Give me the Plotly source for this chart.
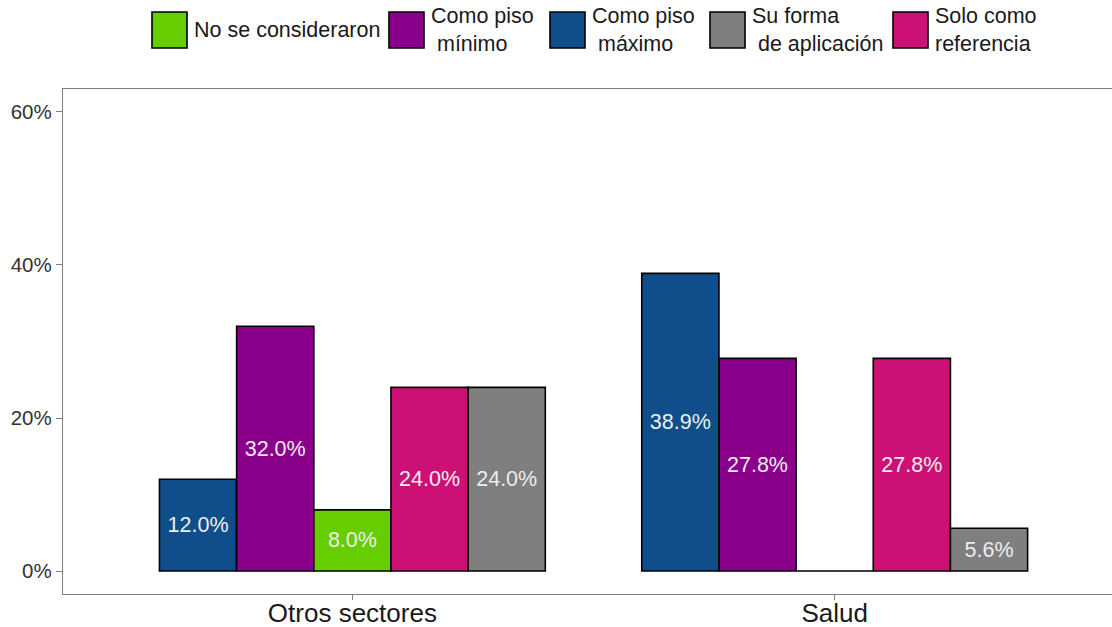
import plotly.graph_objects as go

# ---- data ----
categories = ["Otros sectores", "Salud"]
series_names = ["Como piso máximo", "Como piso mínimo", "No se consideraron",
                "Solo como referencia", "Su forma de aplicación"]
maximo = [12.0, 38.9]
minimo = [32.0, 27.8]
no_se = [8.0, 0.0]
solo_ref = [24.0, 27.8]
su_forma = [24.0, 5.6]
series_values = [maximo, minimo, no_se, solo_ref, su_forma]
colors = ["#104E8B", "#8B008B", "#66CD00", "#CD1076", "#7F7F7F"]

legend_order = ["No se consideraron", "Como piso mínimo", "Como piso máximo",
                "Su forma de aplicación", "Solo como referencia"]
legend_labels = ["No se consideraron", "Como piso<br>\u00a0mínimo", "Como piso<br>\u00a0máximo",
                 "Su forma<br>\u00a0de aplicación", "Solo como<br>referencia"]
y_ticks = [0, 20, 40, 60]

FONT = "Liberation Sans, Arial, sans-serif"
W, H = 1112, 627
ML, MR, MT, MB = 63, 0, 89, 33

fig = go.Figure()
for name, vals, col in zip(series_names, series_values, colors):
    fig.add_trace(go.Bar(
        name=name, x=categories, y=vals,
        marker=dict(color=col, line=dict(color="black", width=1.6)),
        text=[f"{v:.1f}%" if v > 0 else "" for v in vals],
        textposition="inside", insidetextanchor="middle",
        textfont=dict(family=FONT, size=21.5, color="#ededed"),
        constraintext="none",
        showlegend=False, hoverinfo="skip",
    ))

# manual legend (large keys like ggplot)
pw = W - ML - MR
ph = H - MT - MB
def px(xp):
    return (xp - ML) / pw
def py(yp):
    return (H - MB - yp) / ph

box_left = [152, 389, 550, 710, 893]
color_of = dict(zip(series_names, colors))
shapes = []
annotations = []
for name, lab, bx in zip(legend_order, legend_labels, box_left):
    shapes.append(dict(type="rect", xref="paper", yref="paper",
                       x0=px(bx), x1=px(bx + 35), y0=py(48), y1=py(12),
                       fillcolor=color_of[name], line=dict(color="black", width=1.6),
                       layer="above"))
    annotations.append(dict(xref="paper", yref="paper", x=px(bx + 40), y=py(30),
                            xanchor="left", yanchor="middle", align="left",
                            text=lab, showarrow=False,
                            font=dict(family=FONT, size=21.5, color="#1a1a1a")))

fig.update_layout(
    width=W, height=H,
    margin=dict(l=ML, r=MR, t=MT, b=MB, pad=0, autoexpand=False),
    paper_bgcolor="white", plot_bgcolor="white",
    barmode="group", bargap=0.2, bargroupgap=0,
    showlegend=False,
    shapes=shapes, annotations=annotations,
    font=dict(family=FONT),
    xaxis=dict(type="category", range=[-0.6, 1.575], showgrid=False, zeroline=False,
               automargin=False, ticklabelstandoff=-9,
               showline=True, linecolor="#7f7f7f", linewidth=1.3, mirror=True,
               ticks="outside", ticklen=5, tickcolor="#7f7f7f", tickwidth=1.3,
               tickfont=dict(family=FONT, size=26, color="#1a1a1a")),
    yaxis=dict(range=[-3, 63], tickvals=y_ticks, ticktext=[f"{t}%" for t in y_ticks],
               automargin=False,
               showgrid=False, zeroline=False,
               showline=True, linecolor="#7f7f7f", linewidth=1.3, mirror=False,
               ticks="outside", ticklen=6, tickcolor="#7f7f7f", tickwidth=1.3,
               tickfont=dict(family=FONT, size=20.5, color="#333333")),
)

fig.write_html("out.html")
